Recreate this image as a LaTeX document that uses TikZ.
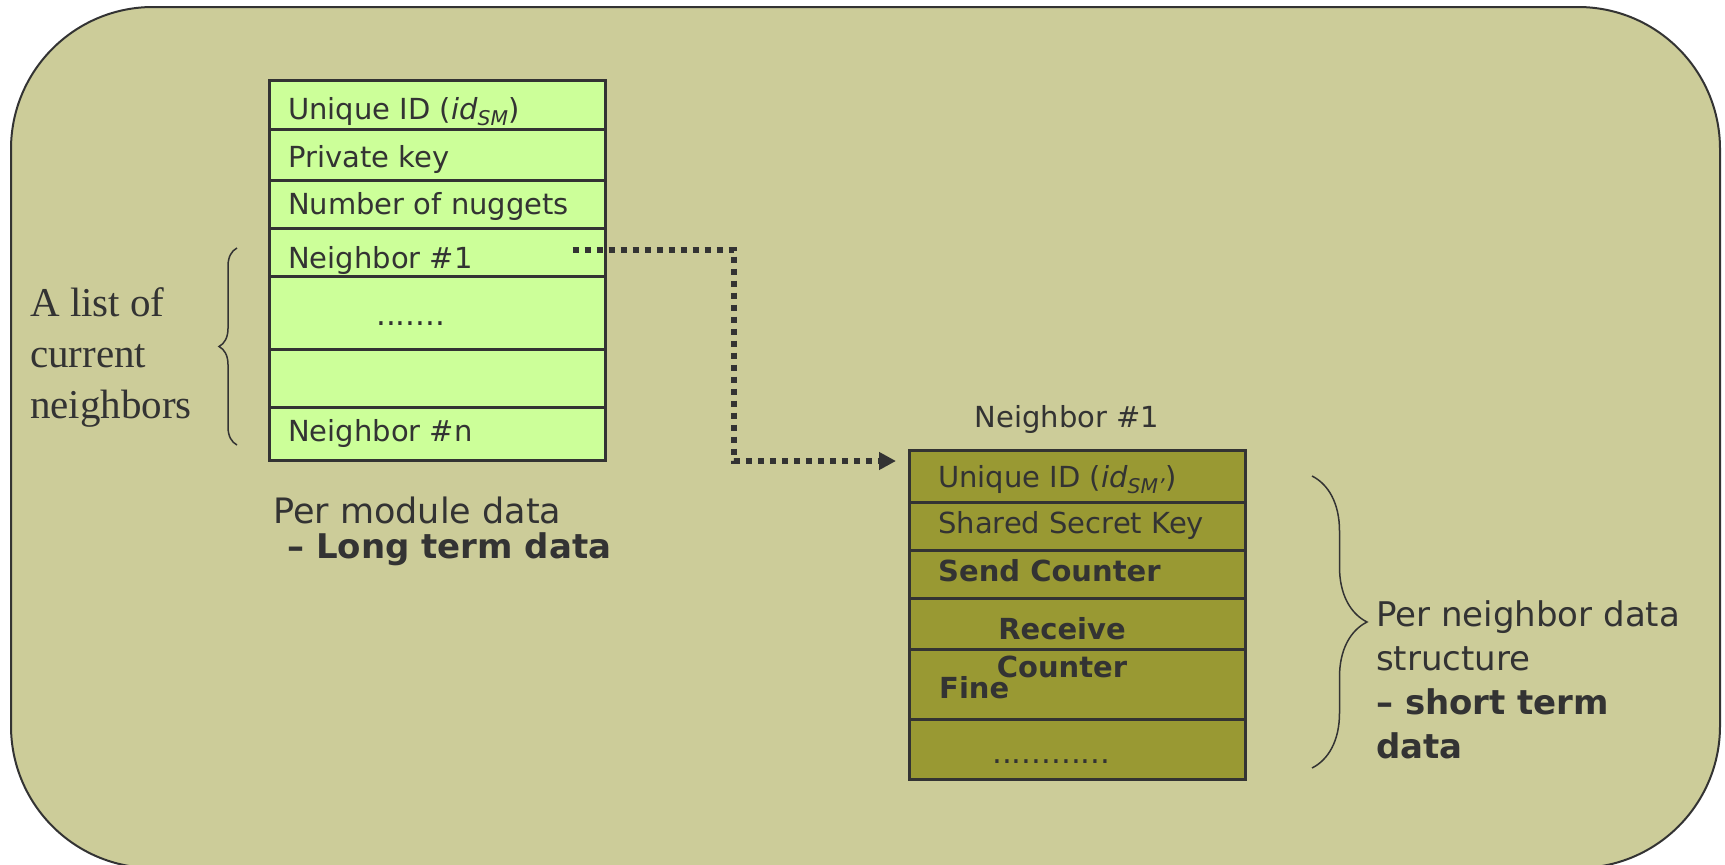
\documentclass[tikz,border=0pt]{standalone}
\usepackage{fontspec}
\setmainfont{DejaVu Sans}
\newfontfamily\listfont{Liberation Serif}
\usetikzlibrary{positioning,calc,arrows.meta,decorations.pathreplacing}
\definecolor{panel}{RGB}{204,204,153}
\definecolor{longterm}{RGB}{204,255,153}
\definecolor{shortterm}{RGB}{153,153,51}
\definecolor{ink}{RGB}{51,51,51}
\tikzset{%
  cell/.style={draw=ink, line width=2.5, anchor=north west, minimum width=336, inner sep=0},% one table row
  modcell/.style={cell, fill=longterm},% per module row
  nbcell/.style={cell, fill=shortterm},% per neighbor row
  entry/.style={anchor=base west, inner sep=0, text=ink, font=\fontsize{29}{35}\selectfont},% text in a row
  note/.style={entry, align=left, font=\fontsize{34}{44}\selectfont},% caption beside a table (base = last line)
  curly/.style={draw=ink, line width=1.5, decorate, decoration={brace, amplitude=#1}},% brace
  link/.style={draw=ink, line width=6, dash pattern=on 6pt off 6pt, -{Triangle[length=17, width=17]}}% pointer
}
\begin{document}
\begin{tikzpicture}[x=1pt, y=-1pt]
\useasboundingbox (0,0) rectangle (1725,865);
\fill[white] (0,0) rectangle (1725,865);
\draw[ink, line width=2, fill=panel, rounded corners=142] (11,7) rectangle (1720,868);

% per module table
\node[modcell, minimum height=49] (m1) at (268,79) {};
\node[modcell, minimum height=51] (m2) at (268,128) {};
\node[modcell, minimum height=48] (m3) at (268,179) {};
\node[modcell, minimum height=48] (m4) at (268,227) {};
\node[modcell, minimum height=73] (m5) at (268,275) {};
\node[modcell, minimum height=58] (m6) at (268,348) {};
\node[modcell, minimum height=53] (m7) at (268,406) {};

\node[entry] (id) at (288,119) {Unique ID (\textit{id}\textsubscript{\textit{SM}})};
\node[entry] (key) at (288,167) {Private key};
\node[entry] (nug) at (288,214) {Number of nuggets};
\node[entry] (first) at (288,268) {Neighbor \#1};
\node[entry, font=\fontsize{31}{35}\selectfont] (mdots) at (376,325) {.......};
\node[entry] (last) at (288,441) {Neighbor \#n};

\node[entry, font=\fontsize{35}{44}\selectfont] (module) at (273,523) {Per module data};
\node[entry, font=\fontsize{34}{44}\selectfont\bfseries] (long) at (287,558) {– Long term data};

% neighbor list brace
\draw[curly=18] (237,445) -- (237,248);
\node[note, font=\listfont\fontsize{41}{51}\selectfont] (list) at (30,418) {A list of\\current\\neighbors};

% per neighbor table
\node[entry, anchor=base] (nbname) at (1067,427) {Neighbor \#1};
\node[nbcell, minimum height=52] (s1) at (908,449) {};
\node[nbcell, minimum height=48] (s2) at (908,501) {};
\node[nbcell, minimum height=48] (s3) at (908,549) {};
\node[nbcell, minimum height=51] (s4) at (908,597) {};
\node[nbcell, minimum height=70] (s5) at (908,648) {};
\node[nbcell, minimum height=60] (s6) at (908,718) {};

\node[entry] (nbid) at (938,487) {Unique ID (\textit{id}\textsubscript{\textit{SM'}})};
\node[entry] (shared) at (938,533) {Shared Secret Key};
\node[entry, font=\fontsize{29}{35}\selectfont\bfseries] (send) at (938,581) {Send Counter};
\node[note, anchor=base, align=center, font=\fontsize{29}{38}\selectfont\bfseries] (recv) at (1062,677) {Receive\\Counter};
\node[entry, font=\fontsize{29}{35}\selectfont\bfseries] (fine) at (939,698) {Fine};
\node[entry, font=\fontsize{31}{35}\selectfont] (sdots) at (992,763) {............};

% short term brace
\draw[curly=55] (1312,476) -- (1312,768);
\node[note] (nbnote) at (1376,758) {Per neighbor data\\structure\\\textbf{– short term}\\\textbf{data}};

% pointer from module entry to neighbor record
\coordinate (from) at ($(m4.east)+(-34,-2)$);
\coordinate (to) at ($(s1.north west)+(-12,12)$);
\draw[link] (from) -| ($(from)!0.5!(to)$) |- (to);
\end{tikzpicture}
\end{document}
